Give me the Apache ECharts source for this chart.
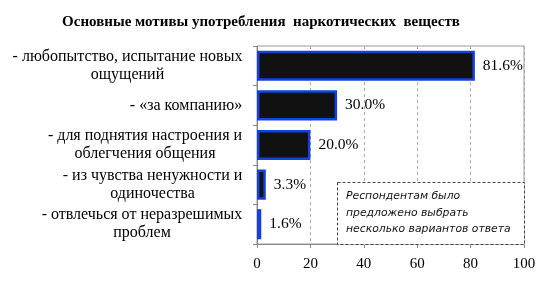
<!DOCTYPE html>
<html><head><meta charset="utf-8">
<script src="https://cdn.jsdelivr.net/npm/echarts@6/dist/echarts.min.js"></script>
<style>html,body{margin:0;padding:0;background:#fff}#c{width:545px;height:285px}</style>
</head><body><div id="c"></div>
<script>
const title = 'Основные мотивы употребления  наркотических  веществ';
const categories = [
  '- любопытство, испытание новых\nощущений',
  '- «за компанию»',
  '- для поднятия настроения и\nоблегчения общения',
  '- из чувства ненужности и\nодиночества',
  '- отвлечься от неразрешимых\nпроблем'
];
const values = [81.6, 30.0, 20.0, 3.3, 1.6];
const xTicks = [0, 20, 40, 60, 80, 100];
const noteLines = ['Респондентам было', 'предложено выбрать', 'несколько вариантов ответа'];

const serif = '"Liberation Serif", "Times New Roman", serif';
const catFont = 16;
const cv = document.createElement('canvas').getContext('2d');
cv.font = catFont + 'px "Liberation Serif"';
const rich = {};
categories.forEach((c, i) => {
  const w = Math.max(...c.split('\n').map(s => cv.measureText(s).width));
  rich['l' + i] = {width: Math.ceil(w) + 1, align: 'center', fontFamily: serif, fontSize: catFont, color: '#000', lineHeight: 18};
});

const chart = echarts.init(document.getElementById('c'), null, {renderer: 'canvas'});
chart.setOption({
  animation: false,
  title: {
    text: title, left: 256, top: 10, textAlign: 'center',
    textStyle: {fontFamily: serif, fontSize: 15, fontWeight: 'bold', color: '#000'}
  },
  grid: {left: 257, right: 21, top: 46, bottom: 41, show: true, borderColor: '#999', borderWidth: 1},
  xAxis: {
    type: 'value', min: xTicks[0], max: xTicks[xTicks.length - 1], interval: 20,
    axisLine: {show: true, lineStyle: {color: '#888'}},
    axisTick: {show: true, length: 4, lineStyle: {color: '#888'}},
    axisLabel: {fontFamily: serif, fontSize: 15, color: '#000', margin: 13},
    splitLine: {show: true, lineStyle: {color: '#aaa', type: [3, 3], width: 1}}
  },
  yAxis: {
    type: 'category', data: categories, inverse: true,
    axisLine: {show: true, lineStyle: {color: '#888'}},
    axisTick: {show: true, length: 4, lineStyle: {color: '#888'}},
    axisLabel: {
      margin: 14, align: 'right', rich: rich,
      formatter: (v, i) => v.split('\n').map(s => '{l' + i + '|' + s + '}').join('\n')
    }
  },
  series: [{
    type: 'bar', data: values, barWidth: '76%',
    itemStyle: {color: '#111', borderColor: '#1440dc', borderWidth: 2.5},
    label: {
      show: true, position: 'right', distance: 8,
      fontFamily: serif, fontSize: 15.5, color: '#000',
      formatter: p => p.value.toFixed(1) + '%'
    }
  }],
  graphic: [{
    type: 'rect', left: 337, top: 182,
    shape: {width: 187, height: 62},
    style: {fill: '#fff', stroke: '#444', lineWidth: 1, lineDash: [3, 2]},
    z: 10
  }, {
    type: 'text', left: 346, top: 188, z: 11,
    style: {
      text: noteLines.join('\n'), fontFamily: '"DejaVu Sans", sans-serif', fontStyle: 'italic',
      fontSize: 10.8, lineHeight: 16.5, fill: '#111'
    }
  }]
});
</script></body></html>
